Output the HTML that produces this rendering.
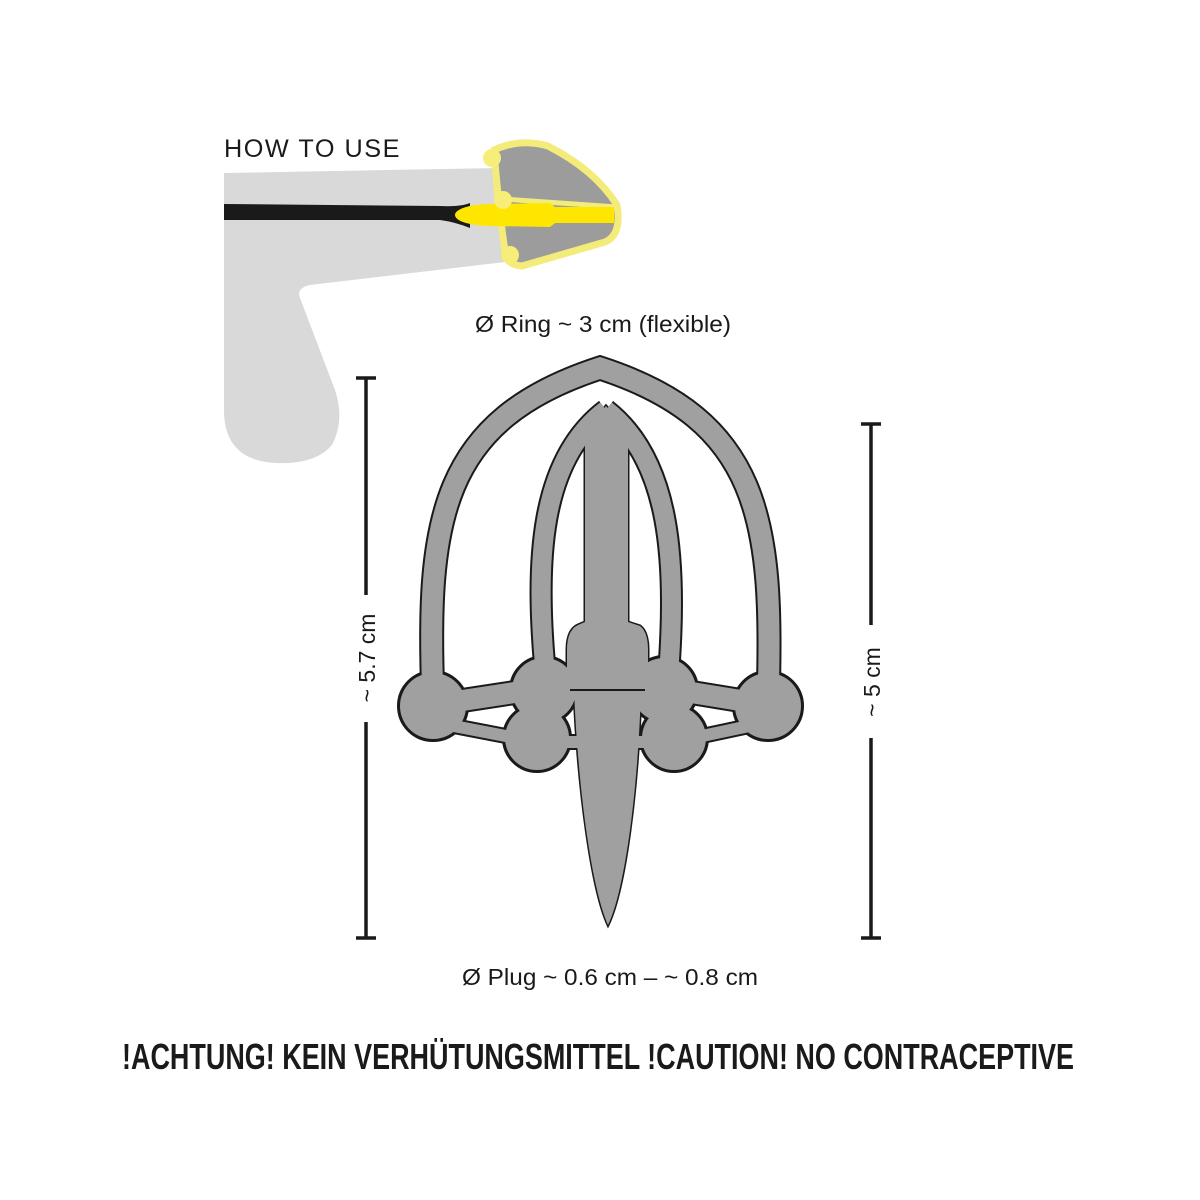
<!DOCTYPE html>
<html><head><meta charset="utf-8"><style>
html,body{margin:0;padding:0;background:#fff;width:1200px;height:1200px;overflow:hidden}
svg{display:block}
text{font-family:"Liberation Sans Narrow","Liberation Sans",sans-serif;fill:#1a1a1a}
</style></head><body>
<svg width="1200" height="1200" viewBox="0 0 1200 1200" xmlns="http://www.w3.org/2000/svg">

<!-- top illustration -->
<path d="M224,173 L500,168 L505,262 L310,285 Q296,288 300,298 L335,390 Q345,420 332,445 Q315,465 275,463 Q224,460 224,410 Z" fill="#d9d9d9"/>
<path d="M224,204 L440,206 Q460,207 470,203 L470,228 Q455,222 440,220 L224,220 Z" fill="#1a1a1a"/>
<path d="M494,150 Q520,138 548,146 Q595,170 617,205 Q622,235 605,242 L522,266 Q505,264 505,252 L498,200 Z" fill="#9c9c9c" stroke="#f3ec7a" stroke-width="7" stroke-linejoin="round"/>
<path d="M503,199 L617,207" stroke="#f3ec7a" stroke-width="5"/>
<path d="M494,150 L505,258" stroke="#f3ec7a" stroke-width="6"/>
<ellipse cx="490" cy="215" rx="35" ry="11" fill="#ffe600"/>
<path d="M490,204 L550,203 L555,207 L614,207 L614,223 L555,223 L550,227 L490,226 Z" fill="#ffe600"/>
<circle cx="492" cy="158" r="9" fill="#f6ee78"/>
<circle cx="503" cy="200" r="9" fill="#f6ee78"/>
<circle cx="510" cy="255" r="9" fill="#f6ee78"/>
<text x="224" y="157" font-size="25" style="font-family:'Liberation Sans',sans-serif" letter-spacing="1.5" textLength="177" lengthAdjust="spacingAndGlyphs">HOW TO USE</text>

<text x="603" y="332" font-size="23" text-anchor="middle" textLength="256" lengthAdjust="spacingAndGlyphs">Ø Ring ~ 3 cm (flexible)</text>

<!-- cage outline layer -->
<g fill="#1a1a1a" stroke="#1a1a1a">
  <path d="M433,700 C426,520 440,420 600,368 C760,420 774,520 768,700" fill="none" stroke-width="25"/>
  <path d="M546,680 C534,560 540,460 606,410" fill="none" stroke-width="23"/>
  <path d="M668,680 C678,560 670,460 606,410" fill="none" stroke-width="23"/>
  <path d="M606,406 L628,432 L628,622 L640,626 Q648,632 648,650 L648,690 L641,690 C638,790 625,890 608,925 C592,890 578,790 574,690 L567,690 L567,650 Q567,630 578,625 L585,622 L585,432 Z" stroke-width="3"/>
  <path d="M433,705 L544,688 L664,688 L768,705" fill="none" stroke-width="25"/>
  <path d="M433,722 L537,742 L674,742 L768,722" fill="none" stroke-width="16"/>
  <circle cx="537" cy="738" r="34.5"/><circle cx="674" cy="738" r="34.5"/>
  <circle cx="433" cy="706" r="35.5"/><circle cx="768" cy="706" r="35.5"/>
  <circle cx="544" cy="690" r="34.5"/><circle cx="664" cy="690" r="34.5"/>
</g>
<g fill="#a0a0a0" stroke="#a0a0a0">
  <path d="M433,700 C426,520 440,420 600,368 C760,420 774,520 768,700" fill="none" stroke-width="21"/>
  <path d="M546,680 C534,560 540,460 606,410" fill="none" stroke-width="19"/>
  <path d="M668,680 C678,560 670,460 606,410" fill="none" stroke-width="19"/>
  <path d="M433,705 L544,688 L664,688 L768,705" fill="none" stroke-width="21"/>
  <path d="M433,722 L537,742 L674,742 L768,722" fill="none" stroke-width="12"/>
  <circle cx="537" cy="738" r="32" stroke="none"/><circle cx="674" cy="738" r="32" stroke="none"/>
  <circle cx="433" cy="706" r="33" stroke="none"/><circle cx="768" cy="706" r="33" stroke="none"/>
  <circle cx="544" cy="690" r="32" stroke="none"/><circle cx="664" cy="690" r="32" stroke="none"/>
  <path d="M606,406 L628,432 L628,622 L640,626 Q648,632 648,650 L648,690 L641,690 C638,790 625,890 608,925 C592,890 578,790 574,690 L567,690 L567,650 Q567,630 578,625 L585,622 L585,432 Z" stroke="none"/>
</g>
<path d="M570,690 L645,690" stroke="#1a1a1a" stroke-width="2"/>

<!-- dimension lines -->
<g stroke="#1a1a1a" stroke-width="3.5">
  <line x1="366" y1="378" x2="366" y2="595"/><line x1="366" y1="722" x2="366" y2="938"/>
  <line x1="356" y1="378" x2="376" y2="378"/><line x1="356" y1="938" x2="376" y2="938"/>
  <line x1="871" y1="424" x2="871" y2="625"/><line x1="871" y1="738" x2="871" y2="938"/>
  <line x1="861" y1="424" x2="881" y2="424"/><line x1="861" y1="938" x2="881" y2="938"/>
</g>
<text transform="translate(375,658) rotate(-90)" font-size="23" text-anchor="middle">~ 5.7 cm</text>
<text transform="translate(880,682) rotate(-90)" font-size="23" text-anchor="middle">~ 5 cm</text>

<text x="610" y="985" font-size="23" text-anchor="middle" textLength="296" lengthAdjust="spacingAndGlyphs">Ø Plug ~ 0.6 cm – ~ 0.8 cm</text>

<text x="598" y="1069" font-size="36" font-weight="bold" text-anchor="middle" textLength="952" lengthAdjust="spacingAndGlyphs">!ACHTUNG! KEIN VERHÜTUNGSMITTEL !CAUTION! NO CONTRACEPTIVE</text>
</svg>
</body></html>
